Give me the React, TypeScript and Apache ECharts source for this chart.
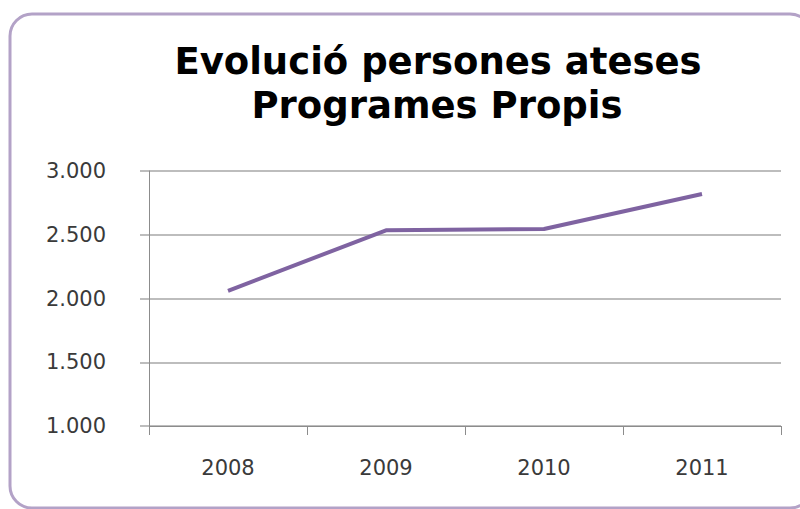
import React, { useEffect, useRef } from "react";
import * as echarts from "echarts";

const titleLines = ["Evolució persones ateses", "Programes Propis"];
const categories = ["2008", "2009", "2010", "2011"];
const values = [2060, 2535, 2545, 2820];
const yMin = 1000;
const yMax = 3000;
const yInterval = 500;

const fmt = (v: number) => {
  const s = String(Math.round(v));
  return s.replace(/\B(?=(\d{3})+(?!\d))/g, ".");
};

export default function App() {
  const ref = useRef<HTMLDivElement>(null);
  useEffect(() => {
    if (!ref.current) return;
    const chart = echarts.init(ref.current, undefined, { renderer: "svg" });
    chart.setOption({
      animation: false,
      backgroundColor: "#ffffff",
      graphic: [
        {
          type: "rect",
          shape: { x: 10, y: 14, width: 802, height: 494, r: 22 },
          style: { fill: "none", stroke: "#b3a2c7", lineWidth: 3 },
          z: 0,
        },
        {
          type: "text",
          style: {
            text: titleLines[0],
            x: 438,
            y: 61,
            align: "center",
            verticalAlign: "middle",
            font: "bold 37px 'DejaVu Sans'",
            fill: "#000000",
          },
        },
        {
          type: "text",
          style: {
            text: titleLines[1],
            x: 437,
            y: 105,
            align: "center",
            verticalAlign: "middle",
            font: "bold 37px 'DejaVu Sans'",
            fill: "#000000",
          },
        },
      ],
      grid: { left: 149, right: 19, top: 171, bottom: 83, containLabel: false },
      xAxis: {
        type: "category",
        data: categories,
        boundaryGap: true,
        axisLine: { show: true, lineStyle: { color: "#8c8c8c", width: 1 } },
        axisTick: { show: true, length: 9, inside: false, alignWithLabel: false, lineStyle: { color: "#8c8c8c" } },
        axisLabel: {
          margin: 31,
          fontFamily: "DejaVu Sans",
          fontSize: 21,
          color: "#3a3a3a",
        },
        splitLine: { show: false },
      },
      yAxis: {
        type: "value",
        min: yMin,
        max: yMax,
        interval: yInterval,
        axisLine: { show: true, lineStyle: { color: "#8c8c8c", width: 1 } },
        axisTick: { show: true, length: 9, lineStyle: { color: "#bdbdbd", width: 2 } },
        axisLabel: {
          margin: 43,
          fontFamily: "DejaVu Sans",
          fontSize: 21,
          color: "#3a3a3a",
          formatter: (v: number) => fmt(v),
        },
        splitLine: { show: true, lineStyle: { color: "#bdbdbd", width: 2 } },
      },
      series: [
        {
          type: "line",
          data: values,
          symbol: "none",
          lineStyle: { color: "#7f63a1", width: 4 },
          itemStyle: { color: "#7f63a1" },
        },
      ],
    });
    return () => chart.dispose();
  }, []);
  return (
    <div
      ref={ref}
      style={{ position: "fixed", left: 0, top: 0, width: 800, height: 509 }}
    />
  );
}
